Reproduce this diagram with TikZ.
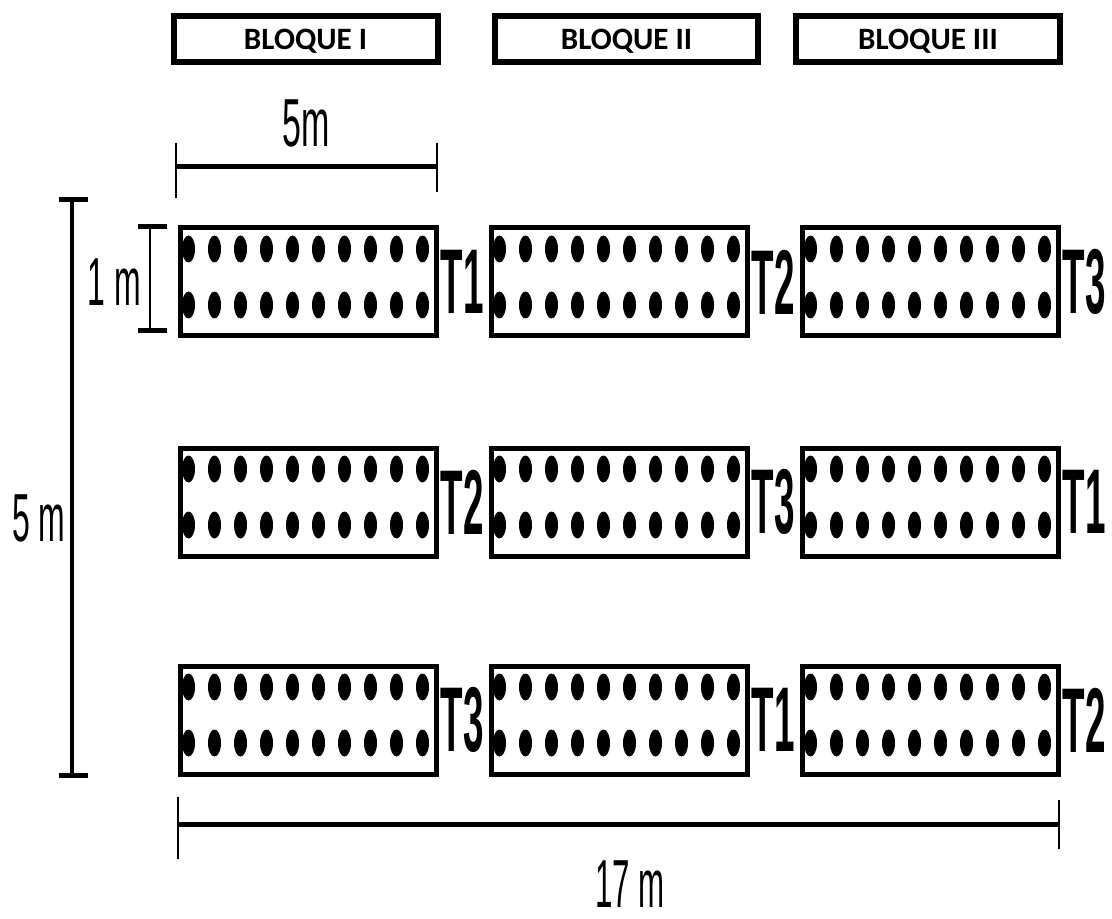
\documentclass[tikz,border=0pt]{standalone}
\usepackage{graphicx}
\usepackage{fontspec}
\setmainfont{Liberation Sans}
\newfontfamily\calibri{Carlito}
\usetikzlibrary{positioning}

\newcommand{\angosto}[2]{\scalebox{#1}[1]{#2}}

\tikzset{
  bloque/.style={draw, line width=4.5pt, minimum width=198pt, minimum height=34.5pt,
    inner sep=0pt, text depth=0pt, font=\calibri\bfseries\fontsize{23.3}{23.3}\selectfont},
  parcela/.style={draw, line width=3.75pt, minimum width=192pt, minimum height=81pt, inner sep=0pt},
  planta/.style={fill=black},
  trat/.style={inner sep=0pt, font=\bfseries\fontsize{69}{69}\selectfont},
  medida/.style={inner sep=0pt, font=\fontsize{51}{51}\selectfont},
  cota/.style={line width=3.75pt},
  guia/.style={line width=1.9pt},
}

\begin{document}
\begin{tikzpicture}[x=0.75pt,y=0.75pt,yscale=-1]
\useasboundingbox (0,0) rectangle (1112,919);

% Text Node
\node[bloque] (blq1) at (305.5,39) {BLOQUE I};
% Text Node
\node[bloque, minimum width=197pt] (blq2) at (626.5,39) {BLOQUE II};
% Text Node
\node[bloque] (blq3) at (928,39) {BLOQUE III};

%Shape: parcelas con plantas
\foreach \f/\yc in {1/282,2/502,3/720}
  \foreach \c/\xc in {1/308,2/619,3/930} {
    \node[parcela] (p\f\c) at (\xc,\yc) {};
    \foreach \k in {0,...,9} {
      \fill[planta] (\xc-119.5+26*\k,\yc-33) ellipse (6.5 and 13.5);
      \fill[planta] (\xc-119.5+26*\k,\yc+23) ellipse (6.5 and 13.5);
    }
  }

% Text Node: tratamientos
\foreach \f/\c/\t in {1/1/1,1/2/2,1/3/3,2/1/2,2/2/3,2/3/1,3/1/3,3/2/1,3/3/2}
  \node[trat, right=1.5pt of p\f\c] (t\f\c) {\angosto{0.4}{T\t}};

%Straight Lines: 5m (ancho del bloque)
\coordinate (a1) at (176,167);
\coordinate (a2) at (437,167);
\draw[cota] (a1) -- (a2);
\draw[guia] (176,143) -- (176,198);
\draw[guia] (437,143) -- (437,192);
\node[medida] (m5a) at (306,123.5) {\angosto{0.5}{5m}};

%Straight Lines: 1 m (ancho de la parcela)
\coordinate (b1) at (150,227);
\coordinate (b2) at (150,331);
\draw[guia] (b1) -- (b2);
\draw[cota] (138,227) -- (167,227);
\draw[cota] (138,331) -- (167,331);
\node[medida] (m1) at (114.5,282.5) {\angosto{0.47}{1 m}};

%Straight Lines: 5 m (largo)
\coordinate (v1) at (72,200);
\coordinate (v2) at (72,775);
\draw[line width=2.4pt] (v1) -- (v2);
\draw[cota] (59,200) -- (88,200);
\draw[cota] (59,775) -- (88,775);
\node[medida] (m5b) at (39,518) {\angosto{0.47}{5 m}};

%Straight Lines: 17 m
\coordinate (h1) at (178,824);
\coordinate (h2) at (1059,824);
\draw[cota] (h1) -- (h2);
\draw[guia] (178,797) -- (178,859);
\draw[guia] (1059,800) -- (1059,849);
\node[medida] (m17) at (630,884) {\angosto{0.46}{17 m}};

\end{tikzpicture}
\end{document}
